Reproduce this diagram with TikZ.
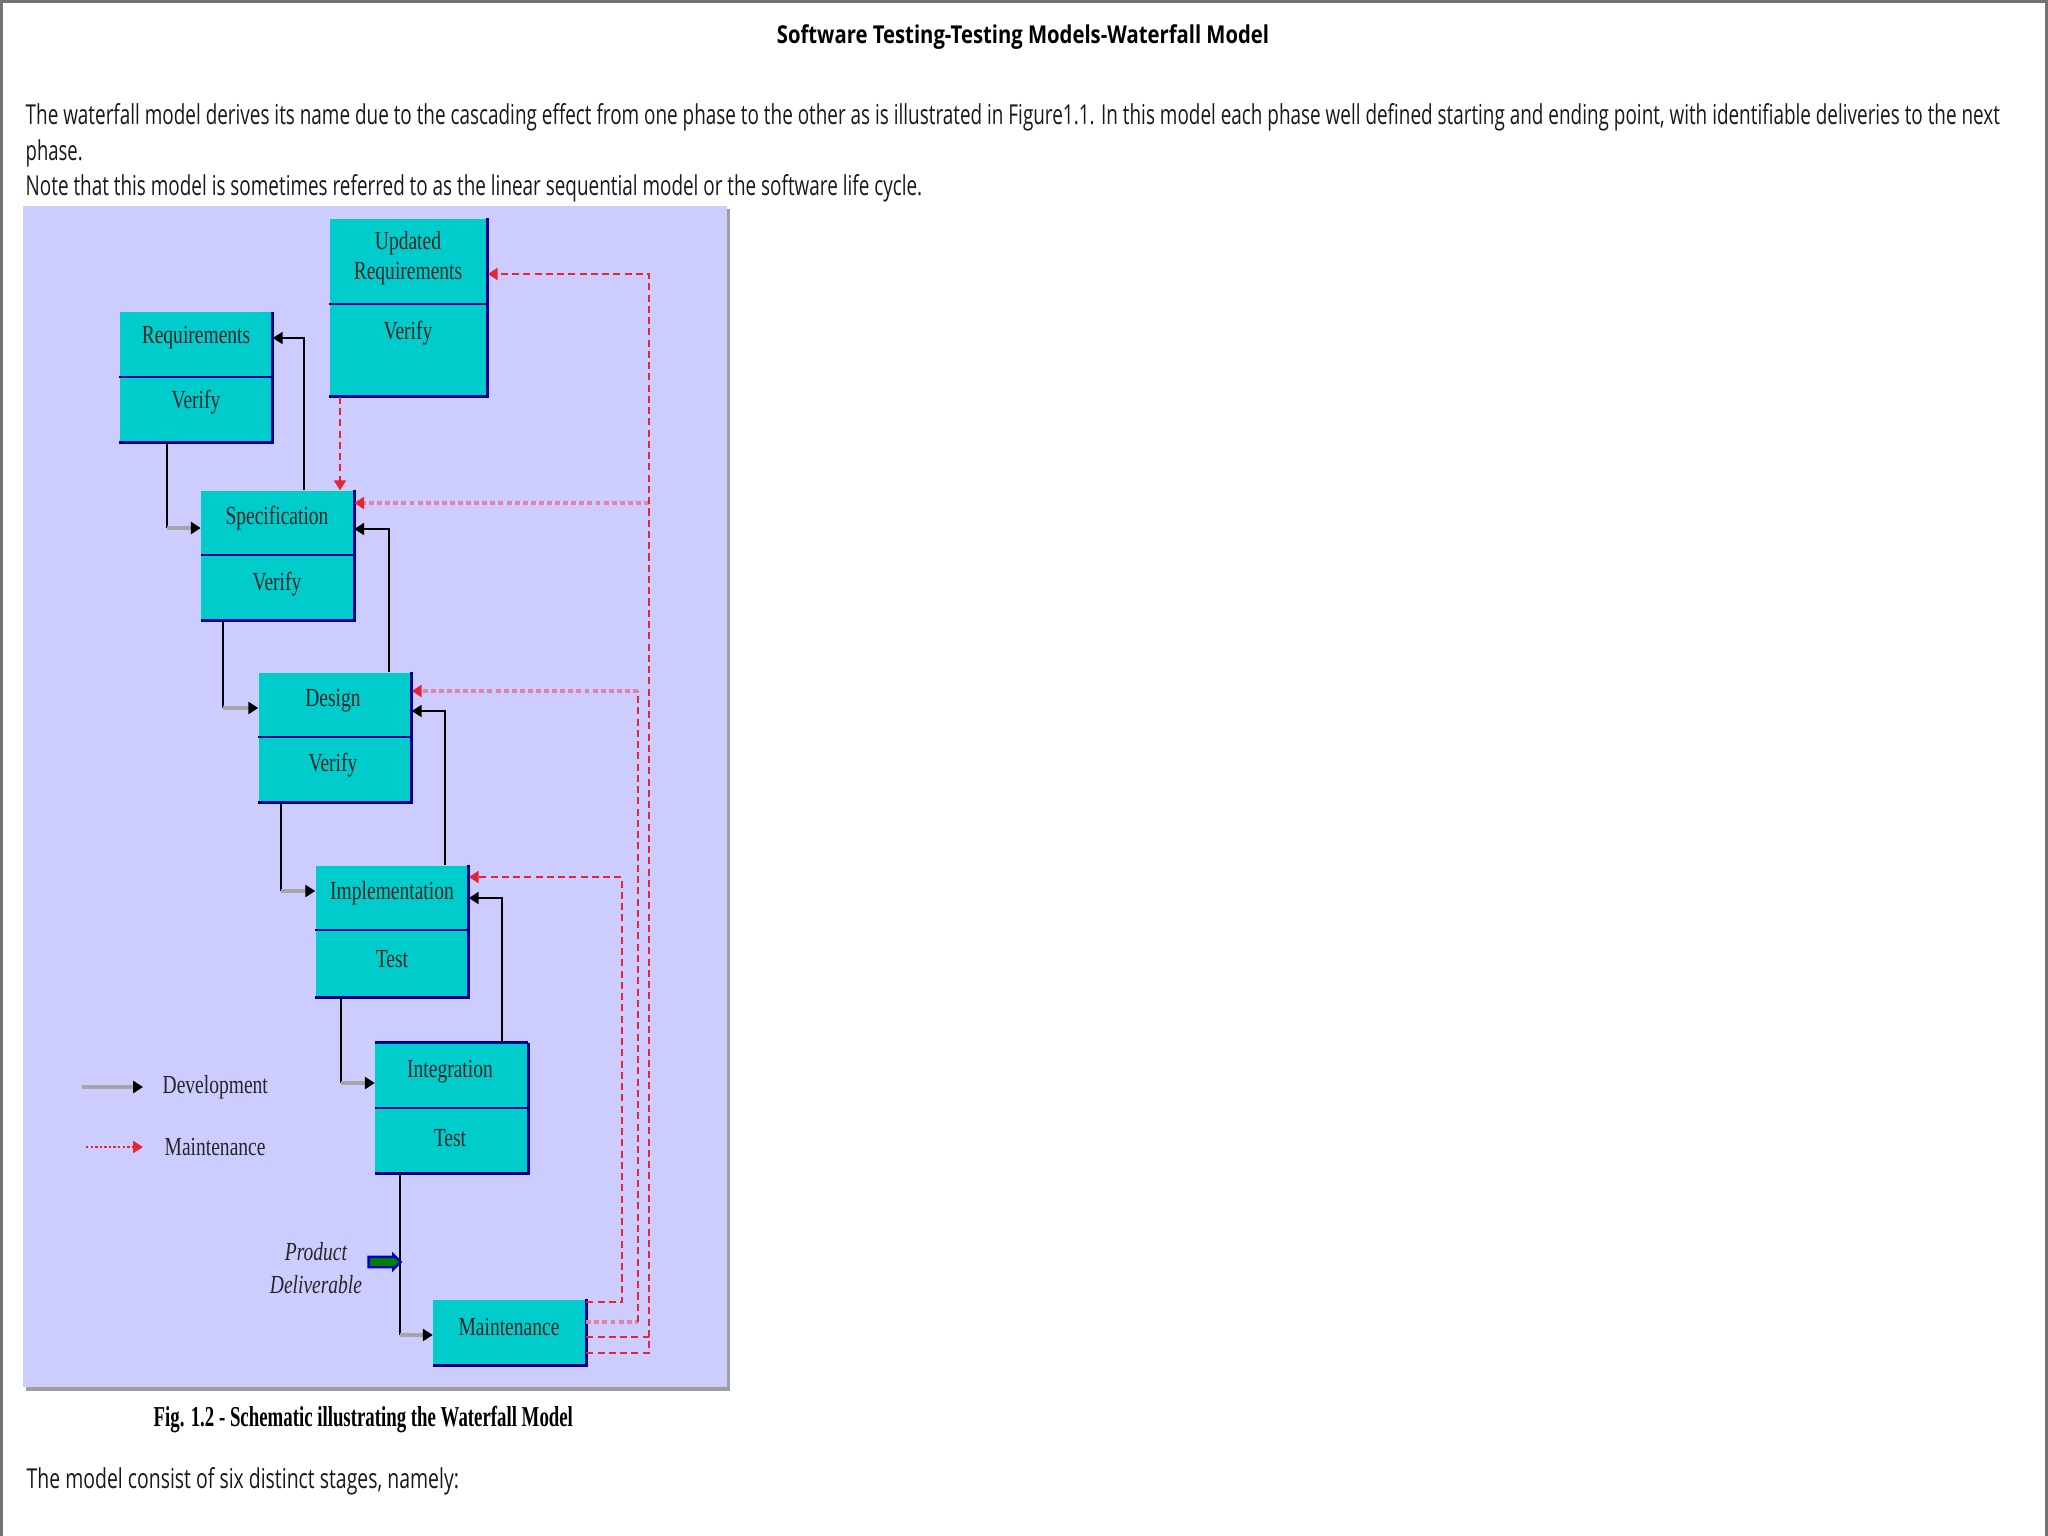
\documentclass[tikz,border=0pt]{standalone}
\usepackage{fontspec}
\usepackage{graphicx}
\setmainfont{Open Sans}
\newfontfamily\boxfont[FakeStretch=0.75]{Liberation Serif}
\newfontfamily\capfont{Liberation Serif}
\usepackage{tikz}
\usetikzlibrary{arrows.meta, shapes.arrows}

\definecolor{panelbg}{RGB}{204,204,255}
\definecolor{boxcyan}{RGB}{0,204,204}
\definecolor{boxnavy}{RGB}{0,0,150}
\definecolor{maintred}{RGB}{232,36,52}
\definecolor{maintpink}{RGB}{226,130,165}

\begin{document}
\begin{tikzpicture}[
  x=0.01cm, y=-0.01cm,
  phase/.style={fill=boxcyan, inner sep=0pt, minimum width=1.52cm, minimum height=1.29cm},
  ptext/.style={font=\boxfont\fontsize{7.4}{9.4}\selectfont, inner sep=0pt, text=black!85},
  body/.style={font=\fontsize{7.8}{9}\selectfont, inner sep=0pt, text=black!90},
  rim/.style={boxnavy, line width=0.85pt},
  divider/.style={boxnavy, line width=0.7pt},
  dev/.style={black, line width=0.55pt},
  devtip/.style={-{Triangle[black, length=2.8pt, width=3.4pt]}},
  devhead/.style={draw=black!35, line width=1.1pt, devtip},
  maintline/.style={maintred, line width=0.55pt, dash pattern=on 2pt off 1.2pt},
  pinkline/.style={maintpink, line width=1.1pt, dash pattern=on 1.4pt off 0.9pt},
  mtip/.style={-{Triangle[maintred, length=2.8pt, width=3.4pt]}},
]
  \useasboundingbox (0,0) rectangle (2048,1536);
  \fill[white] (0,0) rectangle (2048,1536);
  \draw[black!55, line width=1pt] (1,1536) -- (1,1) -- (2047,1) -- (2047,1536);

  % Page text
  \node[anchor=base, font=\bfseries\fontsize{7}{8}\selectfont, inner sep=0pt] (title) at (1023,43)
    {\resizebox{4.92cm}{\height}{Software Testing-Testing Models-Waterfall Model}};
  \node[body, anchor=base west] (p1) at (25,124)
    {\resizebox{19.73cm}{\height}{The waterfall model derives its name due to the cascading effect from one phase to the other as is illustrated in Figure1.1. In this model each phase well defined starting and ending point, with identifiable deliveries to the next}};
  \node[body, anchor=base west] (p2) at (25,160) {\resizebox{0.57cm}{\height}{phase.}};
  \node[body, anchor=base west] (p3) at (25,195)
    {\resizebox{8.96cm}{\height}{Note that this model is sometimes referred to as the linear sequential model or the software life cycle.}};

  % Panel
  \fill[black!38] (26,209) rectangle (730,1391);
  \fill[panelbg] (23,206) rectangle (727,1387);

  % Phases
  \node[phase] (req) at (196,377) {};
  \node[phase, minimum width=1.57cm, minimum height=1.77cm] (upd) at (408.5,307.5) {};
  \node[phase] (spec) at (277.5,555.5) {};
  \node[phase] (des) at (335,737.5) {};
  \node[phase, minimum height=1.31cm] (impl) at (392,931.5) {};
  \node[phase] (integ) at (451.5,1108) {};
  \node[phase, minimum height=0.65cm] (maint) at (509.5,1332.5) {};

  \foreach \bx in {req,upd,spec,des,impl,integ,maint}
    \draw[rim] (\bx.north east) -- (\bx.south east) -- (\bx.south west);
  \draw[rim] (integ.north west) -- (integ.north east);
  \foreach \bx/\yd in {req/377,upd/304,spec/555,des/737,impl/930,integ/1108}
    \draw[divider] (\bx.west |- 0,\yd) -- (\bx.east |- 0,\yd);

  \node[ptext] (req-a) at (196,338) {Requirements};
  \node[ptext] (req-b) at (196,402) {Verify};
  \node[ptext] (upd-a) at (408,243) {Updated};
  \node[ptext] (upd-b) at (408,274) {Requirements};
  \node[ptext] (upd-c) at (408,333) {Verify};
  \node[ptext] (spec-a) at (277,518) {Specification};
  \node[ptext] (spec-b) at (277,584) {Verify};
  \node[ptext] (des-a) at (333,701) {Design};
  \node[ptext] (des-b) at (333,765) {Verify};
  \node[ptext] (impl-a) at (392,893) {Implementation};
  \node[ptext] (impl-b) at (392,959) {Test};
  \node[ptext] (integ-a) at (450,1072) {Integration};
  \node[ptext] (integ-b) at (450,1138) {Test};
  \node[ptext] (maint-a) at (509,1327) {Maintenance};

  % Development flow
  \draw[dev] (req.south -| 167,0) -- (167,528) edge[devhead] (spec.west |- 0,528);
  \draw[dev, devtip] (spec.north -| 304,0) |- (req.east |- 0,338);
  \draw[dev] (spec.south -| 223,0) -- (223,708) edge[devhead] (des.west |- 0,708);
  \draw[dev, devtip] (des.north -| 389,0) |- (spec.east |- 0,529);
  \draw[dev] (des.south -| 281,0) -- (281,891) edge[devhead] (impl.west |- 0,891);
  \draw[dev, devtip] (impl.north -| 445,0) |- (des.east |- 0,711);
  \draw[dev] (impl.south -| 341,0) -- (341,1083) edge[devhead] (integ.west |- 0,1083);
  \draw[dev, devtip] (integ.north -| 502,0) |- (impl.east |- 0,898);
  \draw[dev] (integ.south -| 400,0) -- (400,1335) edge[devhead] (maint.west |- 0,1335);

  % Maintenance flow
  \coordinate (spec-in) at (649,503);
  \draw[maintline, mtip] (upd.south -| 340,0) -- (spec.north -| 340,0);
  \draw[maintline, mtip] (maint.east |- 0,1302) -| (622,877) -- (impl.east |- 0,877);
  \draw[pinkline] (maint.east |- 0,1322) -- (638,1322) edge[maintline] (638,691)
    (638,691) edge[mtip] (des.east |- 0,691);
  \draw[maintline] (maint.east |- 0,1337) -- (649,1337);
  \draw[pinkline, mtip] (spec-in) -- (spec.east |- spec-in);
  \draw[maintline, mtip] (maint.east |- 0,1353) -| (649,274) -- (upd.east |- 0,274);

  % Legend
  \node[ptext, anchor=west] (devlab) at (162,1087) {Development};
  \node[ptext, anchor=west] (mntlab) at (164,1147) {Maintenance};
  \coordinate (leg1) at (82,1087);
  \coordinate (leg2) at (86,1147);
  \draw[devhead] (leg1) -- (devlab.west -| 143,0);
  \draw[maintred, line width=0.4pt, dash pattern=on 0.7pt off 0.6pt, mtip] (leg2) -- (mntlab.west -| 143,0);

  % Product deliverable
  \node[ptext, font=\boxfont\itshape\fontsize{7.4}{9.4}\selectfont, align=center] (deliv) at (316,1268) {Product\\Deliverable};
  \node[single arrow, fill=green!50!black, draw=blue!80!black, line width=0.7pt,
    minimum height=0.32cm, single arrow head extend=0.02cm, inner sep=0.04cm] (darr) at (382,1262) {};

  % Caption
  \node[anchor=base west, font=\capfont\bfseries\fontsize{8.2}{9}\selectfont, inner sep=0pt] (cap) at (153,1426)
    {\resizebox{4.19cm}{\height}{Fig. 1.2 - Schematic illustrating the Waterfall Model}};
  \node[body, anchor=base west] (p4) at (26,1488)
    {\resizebox{4.32cm}{\height}{The model consist of six distinct stages, namely:}};
\end{tikzpicture}
\end{document}
